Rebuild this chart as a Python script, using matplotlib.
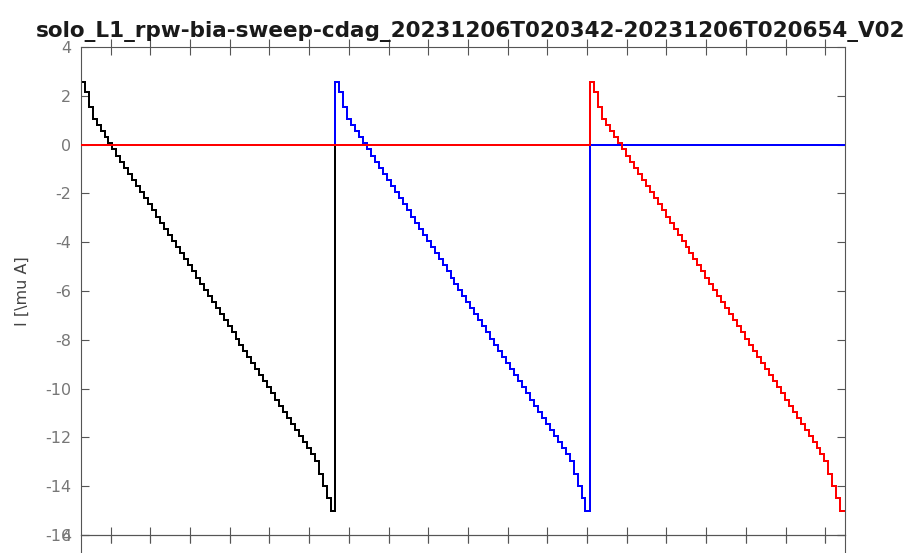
import numpy as np
import matplotlib
matplotlib.use("Agg")
import matplotlib.pyplot as plt

plt.rcParams['axes.unicode_minus'] = False
plt.rcParams['font.family'] = ['DejaVu Sans']

title = "solo_L1_rpw-bia-sweep-cdag_20231206T020342-20231206T020654_V02"

# time axis in seconds after 02:03:00
t_begin = 42.44
t_end = 234.9
x_ticks = [50, 60, 70, 80, 90, 100, 110, 120, 130, 140, 150, 160, 170,
           180, 190, 200, 210, 220, 230]

# sweep start per channel (s), each level lasts ~1 s
sweep_start = [42.44, 106.6, 170.8]
step_dt = 1.0
channel_colors = ['black', 'blue', 'red']

# current levels of one sweep [uA]
sweep_levels = [2.55, 2.15, 1.55, 1.05, 0.80, 0.55, 0.30, 0.05,
                -0.20, -0.45, -0.70, -0.95, -1.20, -1.45, -1.70, -1.95,
                -2.20, -2.45, -2.70, -2.95, -3.20, -3.45, -3.70, -3.95,
                -4.20, -4.45, -4.70, -4.95, -5.20, -5.45, -5.70, -5.95,
                -6.20, -6.45, -6.70, -6.95, -7.20, -7.45, -7.70, -7.95,
                -8.20, -8.45, -8.70, -8.95, -9.20, -9.45, -9.70, -9.95,
                -10.20, -10.45, -10.70, -10.95, -11.20, -11.45, -11.70, -11.95,
                -12.20, -12.45, -12.70, -12.95, -13.50, -14.00, -14.50, -15.00]

y_ticks = [-16, -14, -12, -10, -8, -6, -4, -2, 0, 2, 4]

fig = plt.figure(figsize=(9.09, 5.53), dpi=100)
ax_l = 80.7 / 909
ax_w = (844.7 - 80.7) / 909
ax_b = 1 - 535 / 553
ax_h = (535 - 47) / 553

# next panel below (only its top edge is visible)
ax2 = fig.add_axes([ax_l, ax_b - ax_h, ax_w, ax_h])
ax2.set_xlim(t_begin, t_end)
ax2.set_ylim(-16, 4)
ax2.set_yticks(y_ticks)
ax2.set_xticks(x_ticks)
ax2.set_xticklabels([])
ax2.tick_params(direction='in', length=6, pad=7, top=True, right=True,
                colors='#555555', labelcolor='#777777', labelsize=11.5)
for s in ax2.spines.values():
    s.set_color('#555555')

ax = fig.add_axes([ax_l, ax_b, ax_w, ax_h])
ax.patch.set_alpha(0)

lev = np.array(sweep_levels)
n = len(lev)
for i, col in enumerate(channel_colors):
    ts = sweep_start[i] + step_dt * np.arange(n)
    t_parts = []
    v_parts = []
    if i > 0:
        t_parts.append([t_begin])
        v_parts.append([0.0])
    t_parts.append(ts)
    v_parts.append(lev)
    if i < len(channel_colors) - 1:
        t_parts.append([sweep_start[i + 1], t_end])
        v_parts.append([0.0, 0.0])
    else:
        t_parts.append([t_end])
        v_parts.append([lev[-1]])
    t = np.concatenate(t_parts)
    v = np.concatenate(v_parts)
    ax.plot(t, v, color=col, lw=1.1, drawstyle='steps-post', zorder=2 + i,
            antialiased=False)

ax.set_xlim(t_begin, t_end)
ax.set_ylim(-16, 4)
ax.set_yticks(y_ticks)
ax.set_xticks(x_ticks)
ax.set_xticklabels([])
ax.tick_params(direction='in', length=6, pad=7, top=True, right=True,
               colors='#555555', labelcolor='#777777', labelsize=11.5)
ax.tick_params(axis='x', which='both', bottom=True, direction='inout', length=12)
for s in ax.spines.values():
    s.set_color('#555555')

ax.set_ylabel(r'I [\mu A]', color='#444444', fontsize=11.5, labelpad=11)
ax.set_title(title, fontsize=15.5, fontweight='bold', color='#1a1a1a',
             pad=7, x=0.510)

fig.savefig('out.png', dpi=100)
